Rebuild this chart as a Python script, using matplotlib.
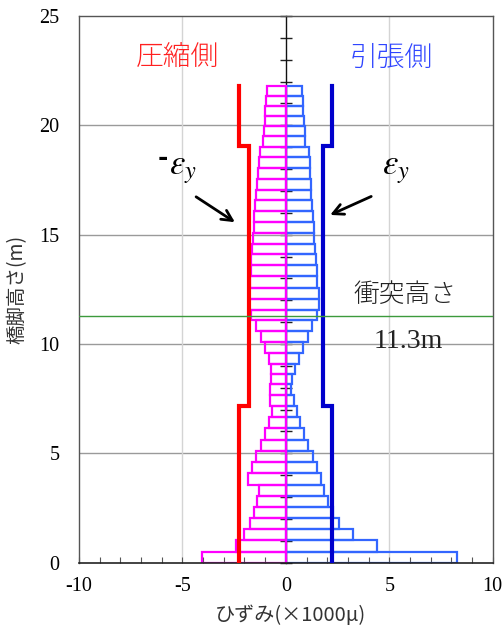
import matplotlib
matplotlib.use("Agg")
import matplotlib.pyplot as plt
import numpy as np

plt.rcParams['axes.unicode_minus'] = False
plt.rcParams['mathtext.fontset'] = 'stix'

# ---- data ----
# element boundaries along the pier height (m), bottom to top
edges = [0, 0.5, 1.02, 1.54, 2.06, 2.56, 3.05, 3.57, 4.09, 4.59, 5.11, 5.63, 6.15,
         6.65, 7.15, 7.65, 8.15, 8.62, 9.09, 9.58, 10.08, 10.59, 11.08, 11.57, 12.07,
         12.57, 13.09, 13.59, 14.1, 14.59, 15.08, 15.58, 16.08, 16.57, 17.06, 17.54,
         18.06, 18.55, 19.0, 19.5, 19.95, 20.41, 20.87, 21.33, 21.78]
# compression-side strain (x1000 micro), bottom to top
compression = [-4.03, -2.42, -2.02, -1.73, -1.55, -1.40, -1.28, -1.84, -1.63, -1.42,
               -1.21, -1.00, -0.81, -0.66, -0.76, -0.76, -0.74, -0.72, -0.79, -1.00,
               -1.22, -1.45, -1.68, -1.76, -1.76, -1.73, -1.69, -1.66, -1.63, -1.59,
               -1.55, -1.52, -1.47, -1.42, -1.39, -1.36, -1.31, -1.27, -1.08, -1.05,
               -1.02, -1.00, -0.95, -0.92]
# tension-side strain (x1000 micro), bottom to top
tension = [8.27, 4.40, 3.27, 2.58, 2.27, 2.03, 1.85, 1.71, 1.51, 1.31, 1.09, 0.90,
           0.69, 0.53, 0.40, 0.23, 0.30, 0.46, 0.65, 0.85, 1.08, 1.27, 1.50, 1.58,
           1.58, 1.53, 1.50, 1.47, 1.43, 1.37, 1.34, 1.30, 1.27, 1.24, 1.21, 1.19,
           1.18, 1.14, 0.95, 0.92, 0.89, 0.85, 0.82, 0.79]
# yield strain step profile
yield_breaks = [0, 7.15, 19.05, 21.8]
yield_strain = [2.25, 1.78, 2.25]
impact_height = 11.3

xticks = [-10, -5, 0, 5, 10]
yticks = [0, 5, 10, 15, 20, 25]

# ---- figure ----
fig = plt.figure(figsize=(5.03, 6.32), dpi=100)
ax = fig.add_axes([0.157, 0.1097, 0.8225, 0.865])

ax.set_xlim(-10, 10)
ax.set_ylim(0, 25)

# grid
for y in yticks[1:-1]:
    ax.axhline(y, color='#9a9a9a', lw=1.0, zorder=0.5)
for x in [-5, 5]:
    ax.axvline(x, color='#d4d4d4', lw=1.0, zorder=0.5)

bottoms = np.array(edges[:-1])
heights = np.diff(edges)

ax.barh(bottoms, tension, height=heights, align='edge', fill=False,
        edgecolor='#3366FF', linewidth=1.6, zorder=2)
ax.barh(bottoms, compression, height=heights, align='edge', fill=False,
        edgecolor='#FF00FF', linewidth=1.6, zorder=2.1)

# yield strain step lines
def step_xy(levels, breaks, sign):
    xs, ys = [], []
    for i, lv in enumerate(levels):
        xs += [sign * lv, sign * lv]
        ys += [breaks[i], breaks[i + 1]]
    return xs, ys

xr, yr = step_xy(yield_strain, yield_breaks, -1)
ax.plot(xr, yr, color='#FF0000', lw=3.0, zorder=3, solid_joinstyle='miter')
xb, yb = step_xy(yield_strain, yield_breaks, 1)
ax.plot(xb, yb, color='#0000CC', lw=3.0, zorder=3, solid_joinstyle='miter')

# impact height line
ax.axhline(impact_height, color='#3c9a3c', lw=1.0, zorder=4)

# center axis with crossing ticks
sec = ax.secondary_yaxis(0.5)
sec.set_yticks(np.arange(0, 26, 1))
sec.set_yticklabels([])
sec.tick_params(direction='inout', length=8, width=1, labelleft=False,
                labelright=False, color='#222222')
for s in sec.spines.values():
    s.set_color('#111111')
    s.set_linewidth(1.0)

# ticks / labels
ax.set_xticks(xticks)
ax.set_xticks(np.arange(-10, 11, 1), minor=True)
ax.set_yticks(yticks)
ax.tick_params(axis='x', which='both', direction='in', length=4, width=0.8,
               color='#555555', pad=10)
ax.tick_params(axis='y', which='both', length=0, pad=14)
for lab in ax.get_xticklabels() + ax.get_yticklabels():
    lab.set_fontfamily('Liberation Serif')
    lab.set_fontsize(14.5)

for s in ['left', 'top', 'right']:
    ax.spines[s].set_color('#555555')
    ax.spines[s].set_linewidth(1.0)
ax.spines['bottom'].set_color('#222222')
ax.spines['bottom'].set_linewidth(1.2)

jp = ['Noto Sans CJK JP', 'DejaVu Sans']
ax.set_xlabel('ひずみ(×1000μ)', family=jp, fontsize=14.5, color='#333333')
ax.xaxis.set_label_coords(0.51, -0.078)
ax.set_ylabel('橋脚高さ(m)', family=jp, fontsize=14, color='#333333')
ax.yaxis.set_label_coords(-0.125, 0.5)

# annotations
ax.text(-5.26, 23.1, '圧縮側', family=jp, fontsize=20, color='#FF2020',
        ha='center', va='center', fontweight='light')
ax.text(5.09, 23.1, '引張側', family=jp, fontsize=20, color='#2F45FF',
        ha='center', va='center', fontweight='light')
ax.text(-5.0, 18.0, r'$\varepsilon_y$', fontsize=25, ha='center', va='center', color='black')
ax.text(-5.95, 18.5, '-', fontsize=18, fontweight='bold', family='DejaVu Sans',
        ha='center', va='center')
ax.text(5.3, 18.0, r'$\varepsilon_y$', fontsize=25, ha='center', va='center', color='black')

ax.annotate('', xy=(-2.35, 15.5), xytext=(-4.45, 16.8),
            arrowprops=dict(arrowstyle='->,head_length=0.75,head_width=0.38', lw=2, color='black'),
            zorder=5)
ax.annotate('', xy=(2.02, 15.85), xytext=(4.25, 16.8),
            arrowprops=dict(arrowstyle='->,head_length=0.75,head_width=0.38', lw=2, color='black'),
            zorder=5)

ax.text(5.77, 12.25, '衝突高さ', family=jp, fontsize=18.5, color='#222222',
        ha='center', va='center', fontweight='light')
ax.text(5.92, 10.1, '11.3m', family='Liberation Serif', fontsize=20, color='#222222',
        ha='center', va='center')

fig.savefig('out.png', dpi=100)
